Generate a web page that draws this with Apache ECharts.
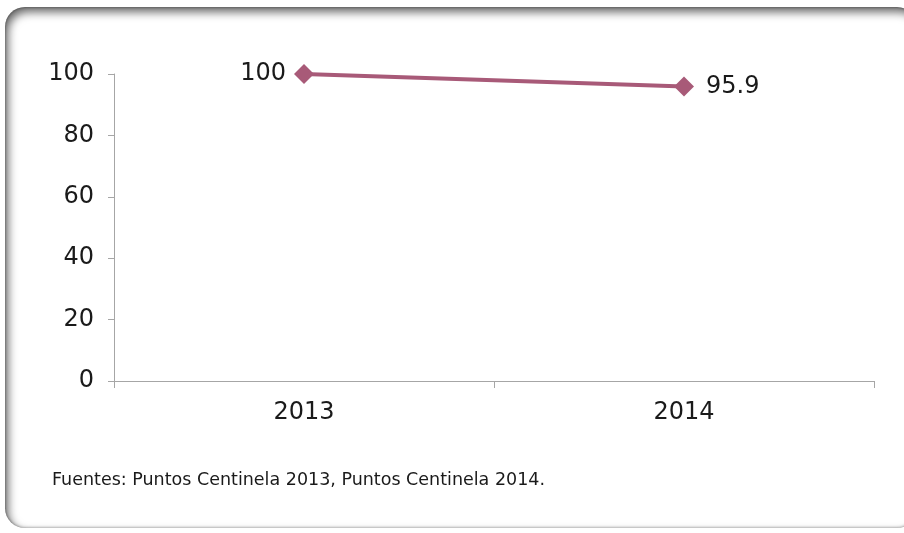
<!DOCTYPE html>
<html>
<head>
<meta charset="utf-8">
<script src="https://cdn.jsdelivr.net/npm/echarts@6/dist/echarts.min.js"></script>
<style>
  html, body { margin: 0; padding: 0; background: #ffffff; }
  #frame {
    position: absolute; left: 5px; top: 7px; width: 912px; height: 521px;
    border-radius: 20px; background: #fff;
    box-shadow: inset 3px 5px 10px rgba(0,0,0,0.6), inset 0 0 3px rgba(0,0,0,0.45);
  }
  #chart { position: absolute; left: 0; top: 0; width: 904px; height: 533px; }
</style>
</head>
<body>
<div id="frame"></div>
<div id="chart"></div>
<script>
// Yearly index values (2013 = 100)
const years = ['2013', '2014'];
const indexValues = [100, 95.9];
const yTicks = [0, 20, 40, 60, 80, 100];
const sourceNote = 'Fuentes: Puntos Centinela 2013, Puntos Centinela 2014.';

const chart = echarts.init(document.getElementById('chart'), null, { renderer: 'canvas' });
const axisColor = '#a6a6a6';
const font = '"DejaVu Sans", sans-serif';
const textColor = '#1a1a1a';

chart.setOption({
  animation: false,
  backgroundColor: 'transparent',
  grid: { left: 114, right: 30, top: 74, bottom: 152 },
  xAxis: {
    type: 'category',
    data: years,
    boundaryGap: true,
    axisLine: { lineStyle: { color: axisColor, width: 1 } },
    axisTick: { show: true, length: 7, lineStyle: { color: axisColor } },
    axisLabel: { color: textColor, fontSize: 24, fontFamily: font, margin: 20 },
    splitLine: { show: false }
  },
  yAxis: {
    type: 'value',
    min: yTicks[0],
    max: yTicks[yTicks.length - 1],
    interval: 20,
    axisLine: { show: true, lineStyle: { color: axisColor, width: 1 } },
    axisTick: { show: true, length: 6, lineStyle: { color: axisColor } },
    axisLabel: { color: textColor, fontSize: 24, fontFamily: font, margin: 20, padding: [4, 0, 0, 0] },
    splitLine: { show: false }
  },
  graphic: [{
    type: 'text', left: 52, top: 471,
    style: { text: sourceNote, fill: textColor, font: '17.5px "DejaVu Sans", Verdana, sans-serif' }
  }],
  series: [{
    type: 'line',
    data: indexValues.map((v, i) => ({
      value: v,
      label: { position: i === 0 ? 'left' : 'right', distance: i === 0 ? 8 : 12 }
    })),
    symbol: 'diamond',
    symbolSize: 20,
    lineStyle: { color: '#a85a78', width: 4 },
    itemStyle: { color: '#a85a78' },
    label: {
      show: true, color: textColor, fontSize: 24, fontFamily: font,
      padding: [4, 0, 0, 0],
      formatter: p => String(p.value)
    }
  }]
});
</script>
</body>
</html>
